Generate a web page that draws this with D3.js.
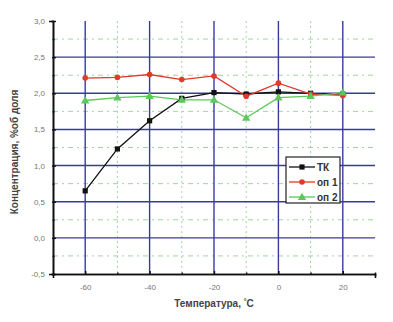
<!DOCTYPE html>
<html>
<head>
<meta charset="utf-8">
<script src="https://cdn.jsdelivr.net/npm/d3@7"></script>
<style>
  body { margin: 0; background: #fff; }
  svg text { font-family: "Liberation Sans", Arial, sans-serif; }
</style>
</head>
<body>
<svg width="393" height="322"></svg>
<script>
// data
var temps = [-60, -50, -40, -30, -20, -10, 0, 10, 20];
var tk  = [0.65, 1.23, 1.62, 1.93, 2.01, 1.99, 2.02, 2.00, 1.99];
var op1 = [2.21, 2.22, 2.26, 2.19, 2.24, 1.96, 2.14, 1.99, 1.97];
var op2 = [1.90, 1.94, 1.96, 1.91, 1.91, 1.66, 1.94, 1.96, 2.01];
var seriesNames = ["ТК", "оп 1", "оп 2"];
var xTicks = [-60, -40, -20, 0, 20];
var yTicks = [-0.5, 0, 0.5, 1, 1.5, 2, 2.5, 3];

var svg = d3.select("svg");

var x = d3.scaleLinear().domain([-70, 30]).range([53, 375]);
var y = d3.scaleLinear().domain([-0.5, 3.0]).range([274, 21]);

var blue = "#3a3a9e", green = "#a2d4a2";

// minor grid (green dashed)
var xMinor = [-50, -30, -10, 10];
var yMinor = [-0.25, 0.25, 0.75, 1.25, 1.75, 2.25, 2.75];
svg.selectAll(".vminor").data(xMinor).enter().append("line")
   .attr("x1", d => x(d)).attr("x2", d => x(d))
   .attr("y1", y(3)).attr("y2", y(-0.5))
   .attr("stroke", green).attr("stroke-width", 1).attr("stroke-dasharray", "2,3");
svg.selectAll(".hminor").data(yMinor).enter().append("line")
   .attr("x1", x(-70)).attr("x2", x(30))
   .attr("y1", d => y(d)).attr("y2", d => y(d))
   .attr("stroke", green).attr("stroke-width", 1).attr("stroke-dasharray", "5,4,2,4");

// major grid (blue)
svg.selectAll(".vmajor").data(xTicks).enter().append("line")
   .attr("x1", d => x(d)).attr("x2", d => x(d))
   .attr("y1", y(3)).attr("y2", y(-0.5))
   .attr("stroke", blue).attr("stroke-width", 1.4);
svg.selectAll(".hmajor").data(yTicks.filter(d => d > -0.5 && d < 3)).enter().append("line")
   .attr("x1", x(-70)).attr("x2", x(30))
   .attr("y1", d => y(d)).attr("y2", d => y(d))
   .attr("stroke", blue).attr("stroke-width", 1.4);

// axes
var fmt = d => d3.format(".1f")(d).replace(".", ",").replace("−", "-");
var yAxis = svg.append("g").attr("transform", "translate(" + x(-70) + ",0)")
   .call(d3.axisLeft(y).tickValues(yTicks).tickFormat(fmt).tickSize(4).tickPadding(4));
var yMinorAx = svg.append("g").attr("transform", "translate(" + x(-70) + ",0)")
   .call(d3.axisLeft(y).tickValues(yMinor).tickFormat("").tickSize(2));
var xAxis = svg.append("g").attr("transform", "translate(0," + y(-0.5) + ")")
   .call(d3.axisBottom(x).tickValues(xTicks).tickFormat(d => d).tickSize(4).tickPadding(6));
var xMinorAx = svg.append("g").attr("transform", "translate(0," + y(-0.5) + ")")
   .call(d3.axisBottom(x).tickValues(xMinor.concat([30])).tickFormat("").tickSize(2));

[yAxis, yMinorAx, xAxis, xMinorAx].forEach(function(a) {
  a.select(".domain").attr("stroke", "#111").attr("stroke-width", 1.6);
  a.selectAll(".tick line").attr("stroke", "#111").attr("stroke-width", 1.4)
   .attr("transform", function() {
     // ticks cross the axis line
     return a === yAxis || a === yMinorAx ? "translate(" + (a === yAxis ? 3 : 1.5) + ",0)"
                                          : "translate(0," + (a === xAxis ? -3 : -1.5) + ")";
   });
  a.selectAll("text").attr("fill", "#777").attr("font-size", 8);
});

// series
var line = d3.line().x((d, i) => x(temps[i])).y(d => y(d));
var cols = ["#111111", "#e03a28", "#5cc85c"];
var sets = [tk, op1, op2];

sets.forEach(function(s, k) {
  svg.append("path").datum(s).attr("d", line)
     .attr("fill", "none").attr("stroke", cols[k]).attr("stroke-width", 1.3);
});

function marker(g, k, cx, cy) {
  if (k === 0) {
    g.append("rect").attr("x", cx - 2.6).attr("y", cy - 2.6).attr("width", 5.2).attr("height", 5.2)
     .attr("fill", cols[0]);
  } else if (k === 1) {
    g.append("circle").attr("cx", cx).attr("cy", cy).attr("r", 2.8).attr("fill", cols[1]);
  } else {
    g.append("path").attr("d", d3.symbol(d3.symbolTriangle, 30)())
     .attr("transform", "translate(" + cx + "," + (cy + 0.5) + ")").attr("fill", cols[2]);
  }
}
sets.forEach(function(s, k) {
  var g = svg.append("g");
  s.forEach(function(v, i) { marker(g, k, x(temps[i]), y(v)); });
});

// legend
var lg = svg.append("g").attr("transform", "translate(286,157)");
lg.append("rect").attr("width", 54).attr("height", 46)
  .attr("fill", "#fff").attr("stroke", "#222").attr("stroke-width", 1.2);
seriesNames.forEach(function(n, k) {
  var yy = 10 + k * 15;
  lg.append("line").attr("x1", 3).attr("x2", 29).attr("y1", yy).attr("y2", yy)
    .attr("stroke", cols[k]).attr("stroke-width", 1.3);
  marker(lg, k, 16, yy);
  lg.append("text").attr("x", 31).attr("y", yy + 3.5).text(n)
    .attr("font-size", 10).attr("font-weight", "bold").attr("fill", "#333");
});

// axis titles
svg.append("text").attr("x", 214).attr("y", 307).attr("text-anchor", "middle")
   .attr("font-size", 10).attr("font-weight", "bold").attr("fill", "#444")
   .html('Температура, <tspan dy="-3" font-size="7">°</tspan><tspan dy="3">C</tspan>');
svg.append("text").attr("transform", "translate(18,152) rotate(-90)")
   .attr("text-anchor", "middle").attr("font-size", 10).attr("font-weight", "bold").attr("fill", "#444")
   .text("Концентрация, %об доля");
</script>
</body>
</html>
